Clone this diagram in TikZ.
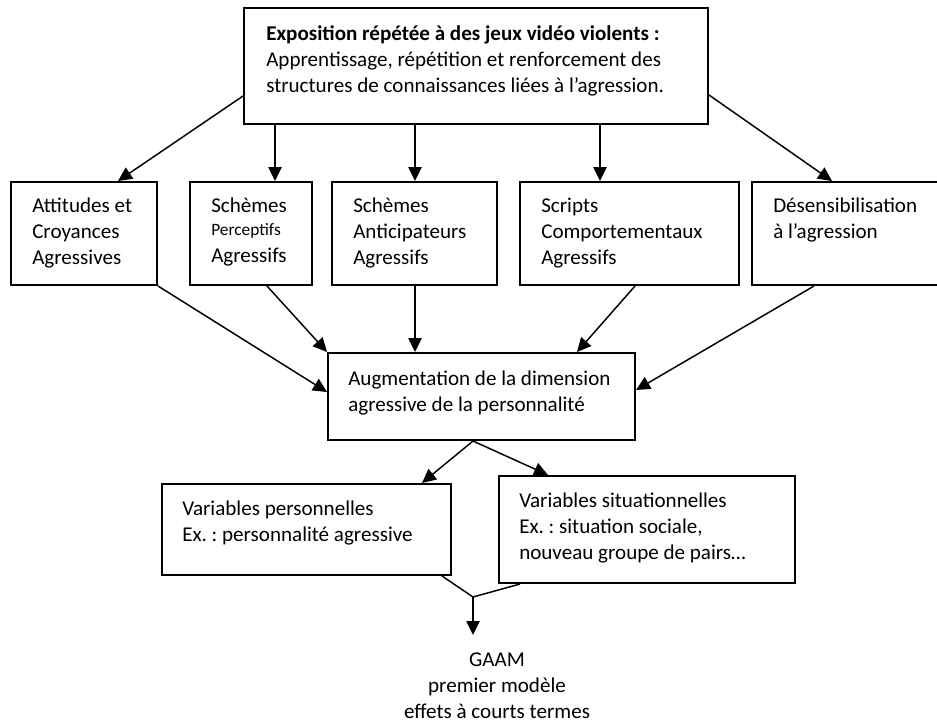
\documentclass[tikz,border=0pt]{standalone}
\usepackage{fontspec}
\setmainfont{Carlito}
\frenchspacing
\usetikzlibrary{arrows.meta,fit,calc}
\newcommand{\lns}[1]{\begin{tabular}[t]{@{}l@{}}#1\end{tabular}}
\newcommand{\clns}[1]{\begin{tabular}[t]{@{}c@{}}#1\end{tabular}}
\begin{document}
\begin{tikzpicture}[x=0.75pt,y=-0.75pt,
  box/.style={draw=black, line width=1.5pt, inner sep=0pt, rectangle},
  txt/.style={inner sep=0pt, anchor=base west, font=\fontsize{15.8}{19.5}\selectfont},
  ctxt/.style={inner sep=0pt, anchor=base, font=\fontsize{15.8}{19.5}\selectfont},
  arr/.style={line width=1.1pt, -{Triangle[length=10.5pt,width=10pt]}},
  ln/.style={line width=1.1pt}]
\fill[white] (0,0) rectangle (937,722);
\clip (0,0) rectangle (937,722);
% boxes
\node[box, fit={(244,8) (708,124)}] (T) {};
\node[box, fit={(11,182) (157,285)}] (A) {};
\node[box, fit={(190,182) (312,285)}] (B) {};
\node[box, fit={(332,182) (497,285)}] (C) {};
\node[box, fit={(520,182) (739,285)}] (D) {};
\node[box, fit={(752,182) (950,285)}] (E) {};
\node[box, fit={(328,353) (635,440)}] (M) {};
\node[box, fit={(162,484) (451,575)}] (P) {};
\node[box, fit={(499,476) (795,583)}] (S) {};
\coordinate (J) at (473,597);
% texts
\node[txt] (Tt) at (266,40) {\lns{\textbf{Exposition répétée à des jeux vidéo violents :}\\Apprentissage, répétition et renforcement des\\structures de connaissances liées à l’agression.}};
\node[txt] (At) at (32,212) {\lns{Attitudes et\\Croyances\\Agressives}};
\node[txt] (Bt) at (211,212) {\lns{Schèmes\\[-2.25pt]{\fontsize{13}{15}\selectfont Perceptifs}\\[0.75pt]Agressifs}};
\node[txt] (Ct) at (353,212) {\lns{Schèmes\\Anticipateurs\\Agressifs}};
\node[txt] (Dt) at (541,212) {\lns{Scripts\\Comportementaux\\Agressifs}};
\node[txt] (Et) at (773,212) {\lns{Désensibilisation\\à l’agression}};
\node[txt] (Mt) at (348,385) {\lns{Augmentation de la dimension\\agressive de la personnalité}};
\node[txt] (Pt) at (182,515) {\lns{Variables personnelles\\Ex. : personnalité agressive}};
\node[txt] (St) at (519,507) {\lns{Variables situationnelles\\Ex. : situation sociale,\\nouveau groupe de pairs…}};
\node[ctxt] (G) at (497,666) {\clns{GAAM\\premier modèle\\effets à courts termes}};
% connectors
\draw[arr] (T.west |- 0,96) -- (A.north -| 118,0);
\draw[arr] (T.south -| 275,0) -- (B.north -| 275,0);
\draw[arr] (T.south -| 415,0) -- (C.north -| 415,0);
\draw[arr] (T.south -| 600,0) -- (D.north -| 600,0);
\draw[arr] (T.east |- 0,95) -- (E.north -| 832,0);
\draw[arr] (A.south east) -- (M.west |- 0,392);
\draw[arr] (B.south -| 267,0) -- (M.north west);
\draw[arr] (C.south -| 415,0) -- (M.north -| 415,0);
\draw[arr] (D.south -| 635,0) -- (M.north -| 577,0);
\draw[arr] (E.south -| 814,0) -- (M.east |- 0,390);
\draw[arr] (M.south -| 473,0) -- (P.north -| 422,0);
\draw[arr] (M.south -| 473,0) -- (S.north -| 548,0);
\draw[ln] (P.south -| 442,0) -- (J);
\draw[ln] (S.south -| 520,0) -- (J);
\draw[arr] (J) -- (J |- 0,635);
\end{tikzpicture}
\end{document}
